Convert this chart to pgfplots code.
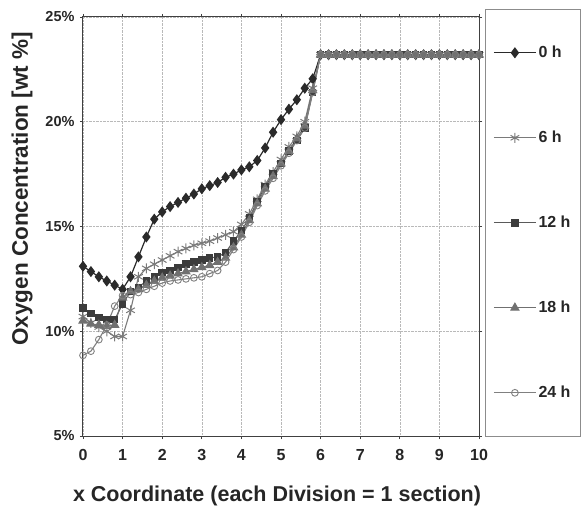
\documentclass[border=0pt]{standalone}
\usepackage{fontspec}
\setmainfont{Liberation Sans}
\usepackage{pgfplots}
\usepackage{pgfplotstable}
\pgfplotsset{compat=1.18}
\definecolor{cA}{HTML}{2A2A2A}
\definecolor{cB}{HTML}{7A7A7A}
\definecolor{cC}{HTML}{3C3C3C}
\definecolor{cCl}{HTML}{5A5A5A}
\definecolor{cD}{HTML}{707070}
\definecolor{cE}{HTML}{808080}
\pgfplotstableread{
x    h0    h6    h12   h18   h24
0.0  13.10 10.70 11.10 10.50 8.85
0.2  12.85 10.40 10.85 10.35 9.05
0.4  12.60 10.20 10.65 10.30 9.60
0.6  12.40 10.00 10.55 10.25 10.30
0.8  12.20 9.75  10.55 10.30 11.20
1.0  12.00 9.75  11.30 11.60 11.70
1.2  12.60 11.00 11.90 11.90 11.75
1.4  13.55 12.60 12.10 12.00 11.85
1.6  14.50 13.00 12.40 12.20 12.00
1.8  15.35 13.20 12.60 12.40 12.15
2.0  15.70 13.40 12.80 12.55 12.30
2.2  15.95 13.60 12.90 12.65 12.40
2.4  16.15 13.80 13.05 12.75 12.45
2.6  16.35 13.95 13.20 12.85 12.50
2.8  16.55 14.10 13.30 12.95 12.55
3.0  16.80 14.20 13.40 13.05 12.60
3.2  16.95 14.30 13.50 13.15 12.75
3.4  17.10 14.45 13.55 13.30 12.90
3.6  17.35 14.60 13.75 13.50 13.30
3.8  17.50 14.75 14.30 14.00 13.90
4.0  17.70 15.10 14.80 14.60 14.50
4.2  17.85 15.60 15.40 15.30 15.20
4.4  18.15 16.30 16.20 16.10 16.00
4.6  18.75 17.00 16.90 16.80 16.70
4.8  19.50 17.60 17.50 17.40 17.30
5.0  20.10 18.20 18.00 18.00 17.90
5.2  20.60 18.80 18.60 18.60 18.50
5.4  21.05 19.30 19.10 19.20 19.10
5.6  21.60 20.00 19.70 19.80 19.70
5.8  22.05 21.60 21.40 21.50 21.40
6.0  23.20 23.20 23.20 23.20 23.20
6.2  23.20 23.20 23.20 23.20 23.20
6.4  23.20 23.20 23.20 23.20 23.20
6.6  23.20 23.20 23.20 23.20 23.20
6.8  23.20 23.20 23.20 23.20 23.20
7.0  23.20 23.20 23.20 23.20 23.20
7.2  23.20 23.20 23.20 23.20 23.20
7.4  23.20 23.20 23.20 23.20 23.20
7.6  23.20 23.20 23.20 23.20 23.20
7.8  23.20 23.20 23.20 23.20 23.20
8.0  23.20 23.20 23.20 23.20 23.20
8.2  23.20 23.20 23.20 23.20 23.20
8.4  23.20 23.20 23.20 23.20 23.20
8.6  23.20 23.20 23.20 23.20 23.20
8.8  23.20 23.20 23.20 23.20 23.20
9.0  23.20 23.20 23.20 23.20 23.20
9.2  23.20 23.20 23.20 23.20 23.20
9.4  23.20 23.20 23.20 23.20 23.20
9.6  23.20 23.20 23.20 23.20 23.20
9.8  23.20 23.20 23.20 23.20 23.20
10.0 23.20 23.20 23.20 23.20 23.20
}\data
\begin{document}
\begin{tikzpicture}
\useasboundingbox (-83pt,-75pt) rectangle (502pt,436pt);
\begin{axis}[
  scale only axis,
  width=396pt, height=419pt,
  xmin=0, xmax=10, ymin=5, ymax=25,
  xtick={0,1,...,10},
  ytick={5,10,15,20,25},
  yticklabels={5\%,10\%,15\%,20\%,25\%},
  /pgf/number format/assume math mode=true,
  grid=major,
  major grid style={gray!55, densely dotted, line width=0.6pt},
  axis line style={black!75, line width=1pt},
  tick style={black!75, line width=0.8pt},
  tick align=outside,
  major tick length=3pt,
  clip=false,
  ticklabel style={font=\fontsize{16}{19}\selectfont\bfseries, text=black!85},
  xticklabel style={yshift=-7pt},
  yticklabel style={xshift=-2pt, font=\fontsize{14.5}{17}\selectfont\bfseries},
  xlabel={x Coordinate (each Division = 1 section)},
  ylabel={Oxygen Concentration [wt \%]},
  xlabel style={at={([yshift=-60pt]axis description cs:0.49,0)}, anchor=center, font=\fontsize{21.5}{24}\selectfont\bfseries, text=black!85},
  ylabel style={at={([xshift=-61pt]axis description cs:0,0.59)}, anchor=center, font=\fontsize{22.5}{25}\selectfont\bfseries, text=black!85},
  legend style={at={([xshift=6pt,yshift=8pt]axis description cs:1,1)}, anchor=north west,
    draw=black!45, line width=0.6pt, inner xsep=8pt, inner ysep=34pt, row sep=66pt,
    font=\fontsize{16}{19}\selectfont\bfseries,
    nodes={inner sep=2pt, text height=12pt, text depth=3pt, text=black!85}},
  legend cell align=left,
  legend image code/.code={\draw[mark repeat=2,mark phase=2,#1] plot coordinates {(0pt,0pt) (21pt,0pt) (42pt,0pt)};},
]
\addplot[cA, line width=1.2pt, mark=diamond*, mark size=4.6pt, mark options={fill=cA}] table[x=x,y=h0] {\data};
\addplot[cB, line width=1.1pt, mark=asterisk, mark size=5pt, mark options={line width=1pt}] table[x=x,y=h6] {\data};
\addplot[cCl, line width=1.1pt, mark=square*, mark size=3.2pt, mark options={fill=cC, draw=cC}] table[x=x,y=h12] {\data};
\addplot[cD, line width=1.1pt, mark=triangle*, mark size=4.5pt, mark options={fill=cD}] table[x=x,y=h18] {\data};
\addplot[cE, line width=1.1pt, mark=o, mark size=3.4pt, mark options={fill=white, line width=0.9pt}] table[x=x,y=h24] {\data};
\legend{0 h,6 h,12 h,18 h,24 h}
\end{axis}
\end{tikzpicture}
\end{document}
